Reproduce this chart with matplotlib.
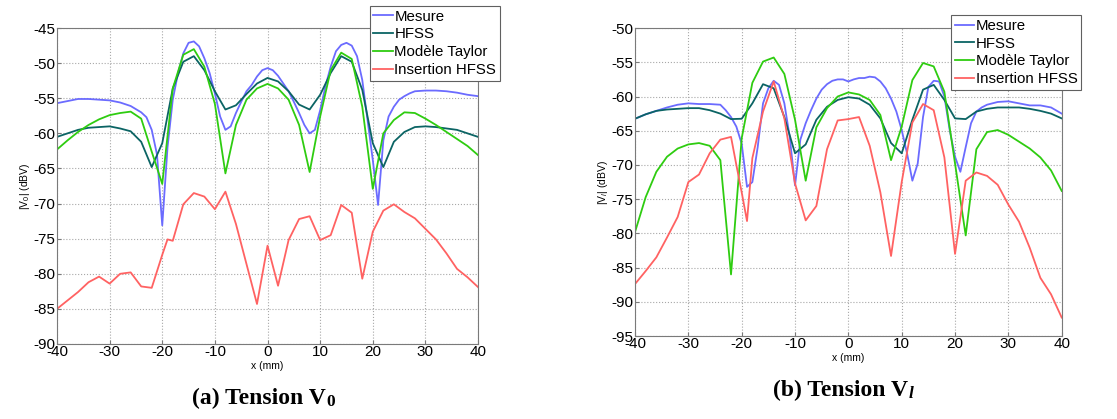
import numpy as np
import matplotlib
matplotlib.use('Agg')
import matplotlib.pyplot as plt

plt.rcParams['font.family'] = ['Liberation Sans', 'DejaVu Sans']
plt.rcParams['axes.unicode_minus'] = False
plt.rcParams['mathtext.fontset'] = 'custom'
plt.rcParams['mathtext.rm'] = 'Liberation Sans'
plt.rcParams['mathtext.it'] = 'Liberation Sans:italic'

# ---- (a) Tension V0 ----
x_mes_a = [-40, -38, -36, -34, -32, -30, -28, -26, -24, -23, -22, -21, -20, -19, -18, -17, -16, -15, -14, -13,
           -12, -11, -10, -9, -8, -7, -6, -5, -4, -3, -2, -1, 0, 1, 2, 3, 4, 5, 6, 7, 8, 9, 10, 11, 12, 13,
           14, 15, 16, 17, 18, 19, 20, 21, 22, 23, 24, 25, 26, 27, 28, 30, 32, 34, 36, 38, 40]
mes_a = [-55.7, -55.4, -55.1, -55.1, -55.2, -55.3, -55.6, -56.1, -57.0, -57.7, -59.5, -63.0, -73.1, -62.0,
         -55.2, -51.4, -48.6, -47.1, -46.9, -47.6, -49.3, -51.4, -54.3, -57.6, -59.5, -59.0, -57.1, -55.5,
         -54.0, -53.1, -51.9, -51.0, -50.7, -51.0, -51.8, -52.9, -54.0, -55.5, -57.1, -58.8, -60.0, -59.5,
         -56.7, -53.3, -50.5, -48.3, -47.4, -47.1, -47.5, -49.0, -52.4, -58.1, -63.8, -70.2, -61.0, -57.6,
         -56.2, -55.2, -54.7, -54.3, -54.0, -53.9, -53.9, -54.0, -54.2, -54.5, -54.7]

x_a = list(range(-40, 41, 2))
hfss_a = [-60.5, -60.0, -59.5, -59.2, -59.1, -59.0, -59.3, -59.7, -61.2, -64.8, -61.4, -53.6, -49.8, -49.0,
          -51.0, -54.0, -56.6, -56.0, -54.4, -52.9, -52.1, -52.6, -54.0, -55.9, -56.6, -54.5, -51.4, -49.0,
          -49.8, -53.8, -61.4, -64.8, -61.2, -59.8, -59.1, -59.0, -59.1, -59.3, -59.5, -60.0, -60.5]
taylor_a = [-62.3, -61.0, -59.8, -58.8, -58.0, -57.4, -57.1, -56.9, -57.9, -62.6, -67.2, -53.6, -48.8, -48.0,
            -50.5, -55.8, -65.7, -58.8, -55.2, -53.6, -52.95, -53.6, -55.2, -58.8, -65.5, -57.6, -51.0, -48.5,
            -49.4, -56.2, -67.9, -60.0, -58.1, -57.0, -57.1, -57.9, -58.8, -59.8, -60.8, -61.8, -63.1]

x_ins_a = [-40, -38, -36, -34, -32, -30, -28, -26, -24, -22, -20, -19, -18, -16, -14, -12, -10, -8, -6, -4,
           -2, 0, 2, 4, 6, 8, 10, 12, 14, 16, 18, 20, 22, 24, 26, 28, 30, 32, 34, 36, 38, 40]
ins_a = [-85.0, -83.8, -82.6, -81.2, -80.4, -81.4, -80.0, -79.8, -81.8, -82.0, -77.3, -75.1, -75.3, -70.1,
         -68.5, -69.0, -70.8, -68.3, -72.9, -78.6, -84.3, -76.0, -81.7, -75.2, -72.2, -71.8, -75.2, -74.5,
         -70.2, -71.3, -80.7, -74.0, -71.0, -70.1, -71.2, -72.1, -73.6, -75.1, -77.1, -79.3, -80.5, -81.9]

# ---- (b) Tension Vl ----
x_mes_b = [-40, -38, -36, -34, -32, -30, -28, -26, -24, -23, -22, -21, -20, -19, -18, -17, -16, -15, -14, -13,
           -12, -11, -10, -9, -8, -7, -6, -5, -4, -3, -2, -1, 0, 1, 2, 3, 4, 5, 6, 7, 8, 9, 10, 11, 12, 13,
           14, 15, 16, 17, 18, 19, 20, 21, 22, 23, 24, 25, 26, 28, 30, 32, 34, 36, 38, 40]
mes_b = [-63.25, -62.6, -62.1, -61.6, -61.2, -61.0, -61.1, -61.1, -61.2, -62.0, -63.0, -64.4, -66.9, -73.2,
         -72.5, -67.4, -61.0, -58.8, -57.7, -58.3, -61.0, -65.9, -73.0, -66.3, -63.9, -62.0, -60.3, -59.0,
         -58.2, -57.7, -57.5, -57.5, -57.8, -57.5, -57.3, -57.3, -57.1, -57.2, -57.8, -58.8, -60.3, -62.2,
         -64.9, -68.3, -72.3, -69.8, -63.0, -58.6, -57.7, -57.8, -60.0, -64.9, -68.8, -71.0, -67.4, -63.9,
         -62.2, -61.6, -61.2, -60.8, -60.7, -61.0, -61.3, -61.3, -61.6, -62.5]

x_b = list(range(-40, 41, 2))
hfss_b = [-63.25, -62.6, -62.1, -61.9, -61.8, -61.7, -61.7, -62.0, -62.5, -63.3, -63.25, -61.0, -58.2, -58.8,
          -63.0, -68.3, -67.0, -63.4, -61.5, -60.5, -60.1, -60.3, -61.2, -63.2, -66.8, -68.3, -63.4, -59.0,
          -58.3, -60.5, -63.2, -63.3, -62.2, -61.8, -61.6, -61.6, -61.6, -61.8, -62.1, -62.5, -63.2]
taylor_b = [-79.8, -74.7, -71.0, -68.8, -67.6, -67.0, -66.8, -67.2, -69.3, -86.0, -66.1, -58.0, -54.9, -54.3,
            -56.7, -63.4, -72.3, -64.5, -61.7, -60.0, -59.4, -59.7, -60.5, -62.7, -69.3, -64.4, -57.6, -55.1,
            -55.6, -59.3, -69.8, -80.3, -67.7, -65.2, -64.9, -65.6, -66.6, -67.6, -68.9, -70.8, -73.8]

x_ins_b = [-40, -38, -36, -34, -32, -30, -28, -26, -24, -22, -21, -20, -19, -18, -16, -14, -12, -10, -8, -6,
           -4, -2, 0, 2, 4, 6, 8, 10, 12, 14, 16, 18, 20, 22, 24, 26, 28, 30, 32, 34, 36, 38, 40]
ins_b = [-87.4, -85.5, -83.5, -80.6, -77.6, -72.5, -71.4, -68.3, -66.3, -65.9, -70.0, -74.0, -78.2, -69.0,
         -62.2, -57.8, -63.2, -72.7, -78.1, -76.0, -67.7, -63.5, -63.3, -63.0, -67.2, -74.0, -83.3, -72.5,
         -63.8, -61.1, -62.0, -68.9, -83.0, -72.3, -71.1, -71.6, -72.9, -75.8, -78.3, -82.1, -86.5, -88.9,
         -92.3]

labels = ['Mesure', 'HFSS', 'Modèle Taylor', 'Insertion HFSS']
colors = ['#6b6bff', '#0b6464', '#2ecc10', '#ff6262']

fig = plt.figure(figsize=(11.17, 4.19), dpi=100)
ax1 = fig.add_axes([0.051, 0.179, 0.377, 0.754])
ax2 = fig.add_axes([0.5685, 0.198, 0.382, 0.735])

panels = [
    (ax1, [(x_mes_a, mes_a), (x_a, hfss_a), (x_a, taylor_a), (x_ins_a, ins_a)], (-90, -45), r'|V$_0$| (dBV)',
     (0.4476, 0.986)),
    (ax2, [(x_mes_b, mes_b), (x_b, hfss_b), (x_b, taylor_b), (x_ins_b, ins_b)], (-95, -50), r'|V$_l$| (dBV)',
     (0.968, 0.964)),
]

for ax, series, ylim, ylab, leg_pos in panels:
    for (xs, ys), lab, c in zip(series, labels, colors):
        ax.plot(xs, ys, color=c, lw=1.3, label=lab)
    ax.set_xlim(-40, 40)
    ax.set_ylim(*ylim)
    ax.set_xticks(np.arange(-40, 41, 10))
    ax.set_yticks(np.arange(ylim[0], ylim[1] + 1, 5))
    ax.grid(True, linestyle=':', color='#a8a8a8', lw=0.8)
    for s in ax.spines.values():
        s.set_color('#7a7a7a')
    ax.tick_params(direction='in', length=3, color='#7a7a7a', labelsize=11, pad=1)
    ax.set_xlabel('x (mm)', fontsize=7.5, labelpad=1)
    ax.set_ylabel(ylab, fontsize=7.5, labelpad=1)
    leg = ax.legend(loc='upper right', bbox_to_anchor=leg_pos, bbox_transform=fig.transFigure,
                    fontsize=10.8, handlelength=1.3, handletextpad=0.1, borderpad=0.25,
                    labelspacing=0.25, borderaxespad=0, fancybox=False, framealpha=1)
    leg.get_frame().set_edgecolor('#606060')
    leg.get_frame().set_linewidth(0.8)

# captions: main text then a smaller subscript right after it
serif = ['Liberation Serif', 'DejaVu Serif']
t1 = fig.text(0.172, 0.035, '(a) Tension V', fontsize=17, fontweight='bold', family=serif, ha='left')
t2 = fig.text(0.692, 0.055, '(b) Tension V', fontsize=17, fontweight='bold', family=serif, ha='left')

fig.canvas.draw()
r = fig.canvas.get_renderer()
for t, sub, st in [(t1, '0', 'normal'), (t2, 'l', 'italic')]:
    bb = t.get_window_extent(r)
    fig.text((bb.x1 + 1) / fig.bbox.width, bb.y0 / fig.bbox.height + 0.008, sub, fontsize=12.5,
             fontweight='bold', style=st, family=serif, ha='left', va='baseline')

fig.savefig('out.png', dpi=100)
